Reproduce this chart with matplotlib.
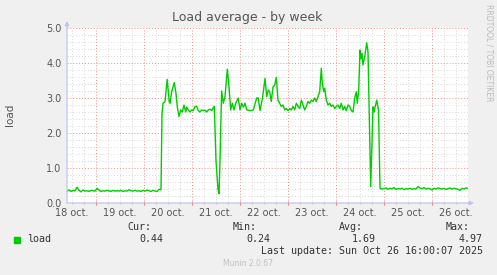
import matplotlib
matplotlib.use("Agg")
import matplotlib.pyplot as plt
from matplotlib.ticker import FixedLocator, MultipleLocator
import numpy as np

# ---- data (hours since 18 Oct 00:00, load average) ----
base_start_hours = [9.5, 10.5, 11.5, 12.5, 13.5, 14.5, 15.5, 16.5, 17.5, 18.5, 19.5, 20.5,
                    21.5, 22.5, 23.5, 24.5, 25.5, 26.5, 27.5, 28.5, 29.5, 30.5, 31.5, 32.5,
                    33.5, 34.5, 35.5, 36.5, 37.5, 38.5, 39.5, 40.5, 41.5, 42.5, 43.5, 44.5,
                    45.5, 46.5, 47.5, 48.5, 49.5, 50.5, 51.5, 52.5, 53.5, 54.5, 55.5]
base_start_load = [0.34, 0.37, 0.33, 0.36, 0.35, 0.45, 0.36, 0.32, 0.37, 0.34, 0.35, 0.33,
                   0.36, 0.35, 0.34, 0.42, 0.37, 0.33, 0.35, 0.34, 0.36, 0.35, 0.33, 0.36,
                   0.34, 0.35, 0.34, 0.36, 0.33, 0.35, 0.34, 0.38, 0.35, 0.34, 0.36, 0.34,
                   0.35, 0.33, 0.36, 0.34, 0.37, 0.35, 0.33, 0.36, 0.34, 0.33, 0.39]

busy_hours = [56.5, 57.0, 57.5, 58.5, 59.6, 60.6, 61.0, 61.85, 63.15, 64.0, 64.65, 65.5,
              66.35, 67.15, 68.0, 68.85, 69.35, 70.15, 71.0, 71.85, 72.65, 73.5, 74.35, 75.15,
              76.0, 76.85, 77.65, 78.5, 79.35, 80.15, 81.0, 81.85, 82.65, 83.15, 84.0, 85.0,
              85.5, 86.0, 86.8, 87.65, 88.5, 89.65, 90.5, 91.35, 92.15, 93.0, 93.85, 95.15,
              96.0, 96.85, 97.65, 98.5, 99.35, 101.0, 102.65, 104.35, 105.15, 106.0, 107.35, 108.5,
              109.35, 110.15, 110.85, 111.65, 112.5, 113.35, 114.15, 115.0, 115.85, 116.65, 117.5, 118.35,
              119.15, 120.0, 120.85, 121.65, 122.5, 123.35, 124.15, 125.0, 125.85, 126.65, 127.5, 128.35,
              129.15, 130.0, 130.85, 131.65, 132.5, 133.35, 134.15, 135.0, 135.85, 136.65, 137.15, 137.85,
              138.35, 139.15, 140.0, 140.85, 141.65, 142.5, 143.35, 144.15, 145.0, 145.85, 146.65, 147.5,
              148.35, 149.15, 150.0, 150.85, 151.65, 152.5, 153.35, 154.15, 154.65, 155.35, 156.0, 156.5,
              157.0, 157.5, 158.5, 159.35, 160.0, 161.35, 162.5, 163.0, 164.35, 165.25, 166.0]
busy_load = [0.38, 2.55, 2.85, 2.9, 3.53, 2.9, 2.85, 3.18, 3.44, 3.13, 2.75, 2.47,
             2.66, 2.6, 2.8, 2.6, 2.74, 2.66, 2.6, 2.66, 2.64, 2.76, 2.76, 2.64,
             2.6, 2.66, 2.64, 2.65, 2.6, 2.66, 2.68, 2.64, 2.72, 2.76, 1.2, 0.4,
             0.26, 1.2, 3.2, 2.85, 3.04, 3.82, 3.32, 2.66, 2.85, 2.66, 2.85, 3.0,
             2.66, 2.85, 2.74, 2.85, 2.66, 2.64, 2.66, 3.0, 3.0, 2.64, 3.04, 3.56,
             3.04, 3.23, 3.18, 2.9, 3.32, 3.37, 3.59, 2.94, 2.85, 2.76, 2.8, 2.66,
             2.7, 2.64, 2.7, 2.66, 2.76, 2.66, 2.85, 2.76, 2.7, 2.94, 2.8, 2.66,
             2.76, 2.9, 2.85, 2.94, 2.9, 3.0, 2.9, 3.04, 3.18, 3.85, 3.42, 3.18,
             3.28, 2.94, 2.8, 2.85, 2.76, 2.8, 2.7, 2.76, 2.8, 2.7, 2.85, 2.66,
             2.76, 2.64, 2.8, 2.76, 2.64, 2.6, 3.0, 3.18, 2.85, 3.23, 4.37, 4.13,
             4.28, 3.94, 4.23, 4.58, 4.32, 0.47, 2.75, 2.6, 2.94, 2.66, 0.42]

base_end_hours = [167.0, 168.0, 169.0, 170.0, 171.0, 172.0, 173.0, 174.0, 175.0, 176.0, 177.0,
                  178.0, 179.0, 180.0, 181.0, 182.0, 183.0, 184.0, 185.0, 186.0, 187.0, 188.0,
                  189.0, 190.0, 191.0, 192.0, 193.0, 194.0, 195.0, 196.0, 197.0, 198.0, 199.0,
                  200.0, 201.0, 202.0, 203.0, 204.0, 205.0, 206.0, 207.0, 208.0, 209.0, 210.0]
base_end_load = [0.40, 0.41, 0.43, 0.39, 0.42, 0.40, 0.44, 0.39, 0.41, 0.40, 0.42, 0.38,
                 0.41, 0.40, 0.42, 0.39, 0.41, 0.40, 0.47, 0.43, 0.41, 0.44, 0.40, 0.42,
                 0.41, 0.37, 0.42, 0.40, 0.43, 0.41, 0.40, 0.42, 0.39, 0.41, 0.43, 0.40,
                 0.42, 0.41, 0.39, 0.36, 0.42, 0.40, 0.43, 0.42]

day_labels = ["18 oct.", "19 oct.", "20 oct.", "21 oct.", "22 oct.",
              "23 oct.", "24 oct.", "25 oct.", "26 oct."]
label_hours = [12, 36, 60, 84, 108, 132, 156, 180, 204]
y_ticks = [0.0, 1.0, 2.0, 3.0, 4.0, 5.0]

legend_name = "load"
stat_names = ["Cur:", "Min:", "Avg:", "Max:"]
stat_values = ["0.44", "0.24", "1.69", "4.97"]

hours = base_start_hours + busy_hours + base_end_hours
load = base_start_load + busy_load + base_end_load

# ---- figure ----
W, H = 497, 275
fig = plt.figure(figsize=(W / 100, H / 100), dpi=100, facecolor="#F0F0F0")
L, R, T, B = 67, 468, 28, 203
ax = fig.add_axes([L / W, 1 - B / H, (R - L) / W, (B - T) / H])
ax.set_facecolor("white")
ax.set_xlim(9.5, 210)
ax.set_ylim(0, 5)

text_col = "#555555"
minor_col = "#D8D8D8"
major_col = (0.92, 0.55, 0.55, 0.6)

# grid
ax.xaxis.set_major_locator(FixedLocator([24 * i for i in range(1, 9)]))
ax.xaxis.set_minor_locator(MultipleLocator(6))
ax.yaxis.set_major_locator(FixedLocator(y_ticks))
ax.yaxis.set_minor_locator(MultipleLocator(0.2))
ax.grid(which="minor", color=minor_col, linestyle=(0, (1, 2)), linewidth=0.7)
ax.grid(which="major", color=major_col, linestyle=(0, (1, 2)), linewidth=0.7)
ax.set_axisbelow(True)

ax.set_xticklabels([])
ax.tick_params(axis="x", which="major", length=2.5, direction="inout", color=(0.9, 0.45, 0.45), width=0.8)
ax.tick_params(axis="x", which="minor", length=2.0, direction="inout", color="#BBBBBB", width=0.6)
ax.tick_params(axis="y", which="both", length=0)
ax.set_yticklabels(["%.1f" % v for v in y_ticks], fontsize=7, color=text_col)
ax.tick_params(axis="y", pad=4)

for h, lab in zip(label_hours, day_labels):
    ax.text(h, -0.13, lab, ha="center", va="top", fontsize=7, color=text_col,
            clip_on=False)

for s in ax.spines.values():
    s.set_visible(False)

# axes lines with arrows
axis_col = "#C0C4F0"
ax.annotate("", xy=(0, 1 + 7 / 175), xytext=(0, 0), xycoords="axes fraction",
            arrowprops=dict(arrowstyle="-|>", color=axis_col, lw=0.9, mutation_scale=6,
                            shrinkA=0, shrinkB=0), annotation_clip=False)
ax.annotate("", xy=(1 + 6 / 401, 0), xytext=(0, 0), xycoords="axes fraction",
            arrowprops=dict(arrowstyle="-|>", color=axis_col, lw=0.9, mutation_scale=6,
                            shrinkA=0, shrinkB=0), annotation_clip=False)

# data
ax.plot(hours, load, color="#00CC00", linewidth=1.0, solid_joinstyle="round")

# texts
fig.text(247.5 / W, 1 - 18 / H, "Load average - by week", ha="center", va="center",
         fontsize=9, color=text_col)
fig.text(10 / W, 1 - 115 / H, "load", rotation=90, ha="center", va="center",
         fontsize=7.5, color=text_col)
fig.text(489 / W, 1 - 4 / H, "RRDTOOL / TOBI OETIKER", rotation=270, ha="center",
         va="top", fontsize=5.5, color="#BBBBBB")

mono = "DejaVu Sans Mono"
fs = 7.2
fig.patches.append(plt.Rectangle((14 / W, 1 - 243 / H), 6 / W, 6 / H,
                                 transform=fig.transFigure, color="#00CC00"))
fig.text(27 / W, 1 - 239.5 / H, legend_name, ha="left", va="center", fontfamily=mono,
         fontsize=fs, color="#333333")
name_right = [151, 257, 363, 470]
val_right = [163, 270, 376, 483]
for n, xr in zip(stat_names, name_right):
    fig.text(xr / W, 1 - 227.5 / H, n, ha="right", va="center", fontfamily=mono,
             fontsize=fs, color="#333333")
for v, xr in zip(stat_values, val_right):
    fig.text(xr / W, 1 - 239.5 / H, v, ha="right", va="center", fontfamily=mono,
             fontsize=fs, color="#333333")
fig.text(483 / W, 1 - 251.5 / H, "Last update: Sun Oct 26 16:00:07 2025", ha="right",
         va="center", fontfamily=mono, fontsize=fs, color="#333333")
fig.text(248 / W, 1 - 263.5 / H, "Munin 2.0.67", ha="center", va="center",
         fontsize=5.5, color="#C0C0C0")

fig.savefig("out.png", dpi=100, facecolor=fig.get_facecolor())
